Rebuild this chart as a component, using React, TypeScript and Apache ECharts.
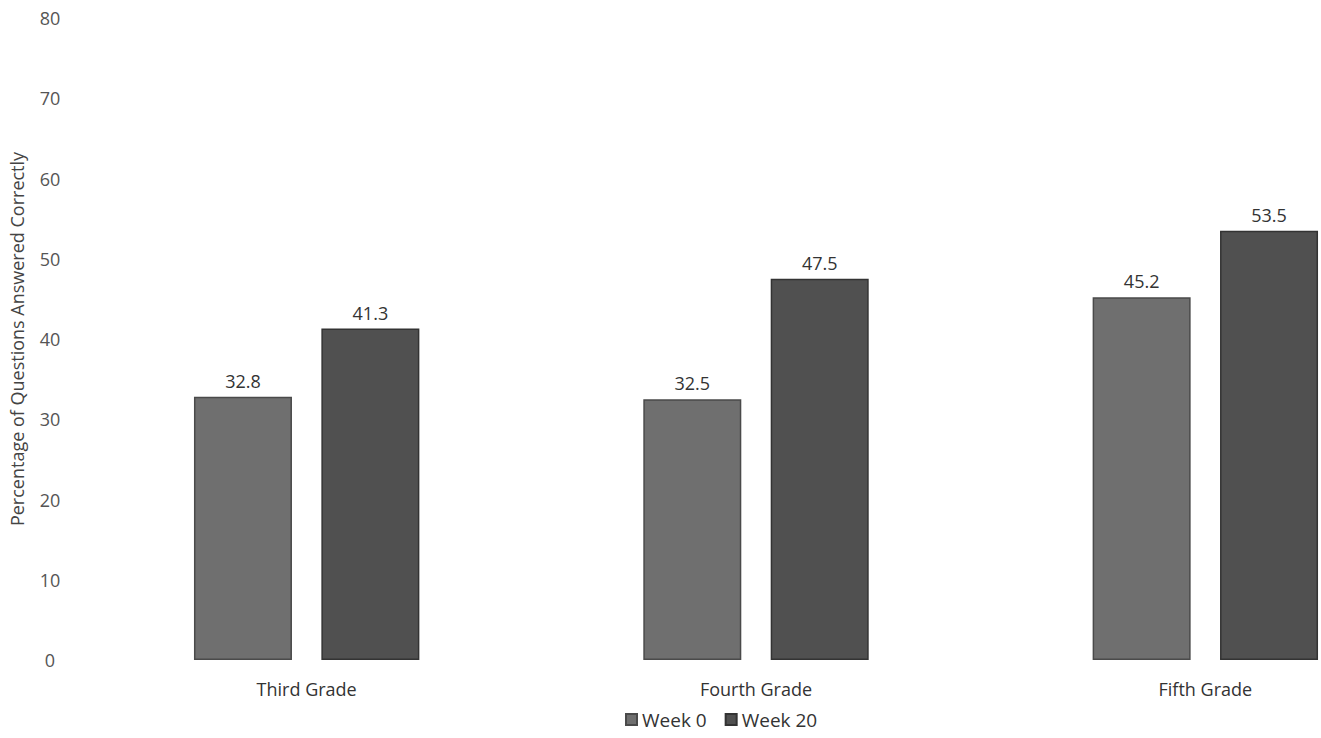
import React, { useEffect, useRef } from "react";
import * as echarts from "echarts";

const categories = ["Third Grade", "Fourth Grade", "Fifth Grade"];
const week0 = [32.8, 32.5, 45.2];
const week20 = [41.3, 47.5, 53.5];
const seriesNames = ["Week 0", "Week 20"];

export default function App() {
  const ref = useRef<HTMLDivElement>(null);
  useEffect(() => {
    document.body.style.margin = "0";
    const chart = echarts.init(ref.current!, null, { renderer: "svg" });
    const font = "'Open Sans', 'DejaVu Sans', sans-serif";
    chart.setOption({
      animation: false,
      backgroundColor: "#ffffff",
      textStyle: { fontFamily: font },
      grid: { left: 74, top: 18, bottom: 78, right: 0 },
      legend: {
        bottom: 4,
        left: 620,
        itemWidth: 11,
        itemHeight: 11,
        itemGap: 18,
        icon: "rect",
        textStyle: { fontSize: 19, color: "#333", fontFamily: font },
        data: seriesNames,
      },
      xAxis: {
        type: "category",
        data: categories,
        axisLine: { show: false },
        axisTick: { show: false },
        axisLabel: { fontSize: 18, color: "#333", margin: 20, fontFamily: font },
      },
      yAxis: {
        type: "value",
        min: 0,
        max: 80,
        interval: 10,
        name: "Percentage of Questions Answered Correctly",
        nameLocation: "middle",
        nameGap: 56,
        nameTextStyle: { fontSize: 18, color: "#444", fontFamily: font },
        axisLine: { show: false },
        axisTick: { show: false },
        splitLine: { show: false },
        axisLabel: { fontSize: 18, color: "#555", align: "center", margin: 32, fontFamily: font },
      },
      series: [
        {
          name: seriesNames[0],
          type: "bar",
          data: week0,
          barWidth: 98,
          barGap: "30%",
          itemStyle: { color: "#6f6f6f", borderColor: "#4a4a4a", borderWidth: 1.5 },
          label: { show: true, position: "top", distance: 7, fontSize: 18, color: "#333", fontFamily: font },
        },
        {
          name: seriesNames[1],
          type: "bar",
          data: week20,
          barWidth: 98,
          barGap: "30%",
          itemStyle: { color: "#505050", borderColor: "#333333", borderWidth: 1.5 },
          label: { show: true, position: "top", distance: 7, fontSize: 18, color: "#333", fontFamily: font },
        },
      ],
    });
    return () => chart.dispose();
  }, []);
  return (
    <div style={{ width: 1321, height: 738, overflow: "hidden", position: "relative" }}>
      <div ref={ref} style={{ width: 1430, height: 738 }} />
    </div>
  );
}
